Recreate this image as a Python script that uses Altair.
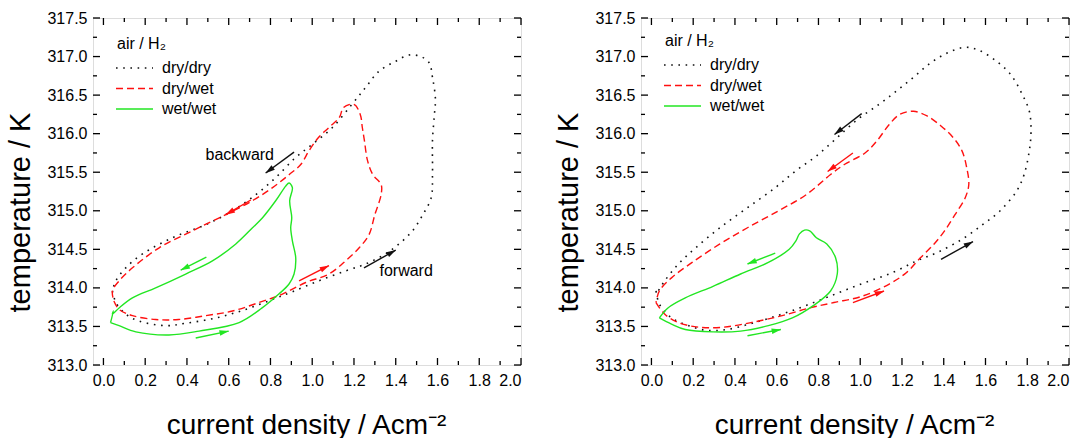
import math
import altair as alt
import pandas as pd

FONT = "Liberation Sans"
W, H = 428, 347
XDOM = [-0.05, 2.0]
YDOM = [313.0, 317.5]
PX_X = W / (XDOM[1] - XDOM[0])
PX_Y = H / (YDOM[1] - YDOM[0])

x_major = [0.0, 0.2, 0.4, 0.6, 0.8, 1.0, 1.2, 1.4, 1.6, 1.8, 2.0]
x_minor = [0.1, 0.3, 0.5, 0.7, 0.9, 1.1, 1.3, 1.5, 1.7, 1.9]
y_major = [313.0, 313.5, 314.0, 314.5, 315.0, 315.5, 316.0, 316.5, 317.0, 317.5]
y_minor = [313.25, 313.75, 314.25, 314.75, 315.25, 315.75, 316.25, 316.75, 317.25]

series_names = ["dry/dry", "dry/wet", "wet/wet"]
legend_title = "air / H\u2082"
x_title = "current density / Acm\u207b\u00b2"
y_title = "temperature / K"

# ---------------- left panel ----------------
L_dd_x = [0.043, 0.06, 0.107, 0.17, 0.30, 0.39, 0.54, 0.68, 0.81, 0.905, 1.03, 1.16, 1.256, 1.35, 1.416,
          1.48, 1.53, 1.57, 1.576, 1.576, 1.584, 1.59, 1.576, 1.56, 1.52, 1.464, 1.40, 1.32, 1.256, 1.19,
          1.097, 1.0, 0.92, 0.825, 0.73, 0.618, 0.49, 0.33, 0.187, 0.107, 0.059, 0.043]
L_dd_y = [313.96, 313.81, 313.66, 313.57, 313.51, 313.54, 313.61, 313.72, 313.85, 313.95, 314.09, 314.22,
          314.31, 314.44, 314.57, 314.74, 314.95, 315.17, 315.47, 315.91, 316.21, 316.45, 316.73, 316.92,
          317.0, 317.02, 316.94, 316.81, 316.6, 316.38, 316.08, 315.86, 315.69, 315.43, 315.21, 315.0,
          314.82, 314.65, 314.44, 314.26, 314.09, 313.96]

L_dw_x = [0.05, 0.075, 0.139, 0.25, 0.36, 0.49, 0.618, 0.745, 0.857, 0.969, 1.08, 1.16, 1.225, 1.272, 1.30,
          1.33, 1.33, 1.29, 1.265, 1.25, 1.24, 1.23, 1.20, 1.15, 1.13, 1.08, 1.03, 0.985, 0.945, 0.89, 0.81,
          0.713, 0.586, 0.426, 0.267, 0.139, 0.075, 0.043, 0.05]
L_dw_y = [313.83, 313.72, 313.64, 313.59, 313.59, 313.64, 313.70, 313.81, 313.92, 314.07, 314.18, 314.35,
          314.52, 314.69, 314.95, 315.21, 315.34, 315.47, 315.65, 315.91, 316.08, 316.25, 316.38, 316.34,
          316.21, 316.08, 315.95, 315.78, 315.60, 315.47, 315.30, 315.13, 314.95, 314.74, 314.52, 314.26,
          314.09, 313.96, 313.83]

L_ww_x = [0.034, 0.075, 0.155, 0.314, 0.458, 0.65, 0.76, 0.84, 0.889, 0.913, 0.921, 0.905, 0.897, 0.902,
          0.892, 0.905, 0.889, 0.873, 0.825, 0.762, 0.714, 0.634, 0.522, 0.394, 0.25, 0.139, 0.075, 0.043,
          0.048, 0.034]
L_ww_y = [313.55, 313.51, 313.43, 313.39, 313.44, 313.55, 313.74, 313.92, 314.05, 314.18, 314.39, 314.61,
          314.78, 314.91, 315.13, 315.30, 315.36, 315.32, 315.13, 314.91, 314.78, 314.57, 314.35, 314.18,
          314.0, 313.87, 313.74, 313.66, 313.70, 313.55]

# arrows: x0, y0, x1, y1, colour
L_arrows = [
    (0.913, 315.76, 0.777, 315.49, "black"),
    (1.248, 314.26, 1.40, 314.49, "black"),
    (0.706, 315.14, 0.586, 314.95, "red"),
    (0.937, 314.09, 1.08, 314.29, "red"),
    (0.493, 314.40, 0.37, 314.23, "green"),
    (0.442, 313.35, 0.60, 313.44, "green"),
]
L_notes_text = ["backward", "forward"]
L_notes_x = [0.653, 1.45]
L_notes_y = [315.72, 314.22]

# ---------------- right panel ----------------
R_dd_x = [0.022, 0.038, 0.096, 0.179, 0.262, 0.361, 0.493, 0.626, 0.758, 0.89, 1.023, 1.156, 1.27, 1.37,
          1.487, 1.586, 1.67, 1.75, 1.785, 1.81, 1.818, 1.81, 1.776, 1.72, 1.652, 1.57, 1.503, 1.42, 1.338,
          1.255, 1.172, 1.09, 0.99, 0.89, 0.79, 0.692, 0.593, 0.46, 0.328, 0.212, 0.129, 0.063, 0.03, 0.022]
R_dd_y = [313.96, 313.79, 313.61, 313.51, 313.45, 313.46, 313.55, 313.66, 313.79, 313.93, 314.07, 314.20,
          314.35, 314.46, 314.63, 314.82, 315.0, 315.26, 315.47, 315.78, 316.03, 316.29, 316.51, 316.77,
          316.94, 317.08, 317.12, 317.05, 316.92, 316.73, 316.55, 316.38, 316.19, 315.95, 315.71, 315.52,
          315.30, 315.04, 314.78, 314.52, 314.31, 314.09, 313.96, 313.96]

R_dw_x = [0.022, 0.063, 0.129, 0.228, 0.344, 0.477, 0.626, 0.758, 0.874, 1.007, 1.139, 1.222, 1.288, 1.354,
          1.404, 1.454, 1.503, 1.52, 1.51, 1.487, 1.445, 1.387, 1.32, 1.255, 1.19, 1.139, 1.081, 1.023,
          0.924, 0.858, 0.742, 0.609, 0.46, 0.328, 0.195, 0.096, 0.038, 0.022]
R_dw_y = [313.81, 313.66, 313.55, 313.49, 313.49, 313.55, 313.64, 313.74, 313.81, 313.89, 314.05, 314.20,
          314.39, 314.57, 314.74, 314.95, 315.17, 315.34, 315.56, 315.78, 315.95, 316.10, 316.23, 316.29,
          316.25, 316.12, 315.91, 315.75, 315.60, 315.47, 315.21, 315.0, 314.78, 314.57, 314.33, 314.13,
          313.96, 313.81]

R_ww_x = [0.038, 0.096, 0.162, 0.295, 0.427, 0.56, 0.675, 0.775, 0.858, 0.89, 0.882, 0.84, 0.79, 0.758,
          0.733, 0.709, 0.692, 0.66, 0.56, 0.427, 0.295, 0.162, 0.079, 0.038]
R_ww_y = [313.61, 313.53, 313.46, 313.43, 313.44, 313.51, 313.61, 313.77, 313.96, 314.18, 314.39, 314.57,
          314.65, 314.74, 314.75, 314.70, 314.61, 314.50, 314.33, 314.18, 314.02, 313.87, 313.74, 313.61]

R_arrows = [
    (1.007, 316.26, 0.877, 315.99, "black"),
    (1.387, 314.37, 1.54, 314.60, "black"),
    (0.965, 315.75, 0.844, 315.51, "red"),
    (0.965, 313.81, 1.114, 313.96, "red"),
    (0.593, 314.45, 0.46, 314.31, "green"),
    (0.46, 313.38, 0.62, 313.46, "green"),
]

COLORS = {"black": "#111111", "red": "#ff1010", "green": "#22e622"}
STYLES = {
    "dry/dry": dict(color="#111111", strokeDash=[1.6, 5.6], strokeWidth=1.6),
    "dry/wet": dict(color="#ff1010", strokeDash=[7, 4], strokeWidth=1.4),
    "wet/wet": dict(color="#22e622", strokeWidth=1.4),
}

xscale = alt.Scale(domain=XDOM, nice=False, zero=False)
yscale = alt.Scale(domain=YDOM, nice=False, zero=False)
xaxis = alt.Axis(values=x_major, format=".1f", title=x_title, grid=False, ticks=False, tickSize=0,
                 domain=False, labelFontSize=16, labelColor="black", labelPadding=7, labelFont=FONT,
                 titleFont=FONT, titleFontSize=28, titleFontWeight="normal", titleColor="black",
                 titleX=213, titleY=68, titleBaseline="alphabetic", titleAlign="center")
yaxis = alt.Axis(values=y_major, format=".1f", title=y_title, grid=False, ticks=False, tickSize=0,
                 domain=False, labelFontSize=16, labelColor="black", labelPadding=6, labelFont=FONT,
                 titleFont=FONT, titleFontSize=29, titleFontWeight="normal", titleColor="black",
                 titleX=-64, titleY=194, titleAngle=270, titleBaseline="alphabetic", titleAlign="center")


def X(f="x"):
    return alt.X(f"{f}:Q", scale=xscale, axis=xaxis)


def Y(f="y"):
    return alt.Y(f"{f}:Q", scale=yscale, axis=yaxis)


def curve(xs, ys, name):
    df = pd.DataFrame({"x": xs, "y": ys, "i": list(range(len(xs)))})
    return alt.Chart(df).mark_line(interpolate="catmull-rom", clip=True, **STYLES[name]).encode(
        x=X(), y=Y(), order=alt.Order("i:Q"))


def arrows(lst):
    rows = []
    for x0, y0, x1, y1, c in lst:
        dxp = (x1 - x0) * PX_X
        dyp = (y1 - y0) * PX_Y
        L = math.hypot(dxp, dyp)
        ang = math.degrees(math.atan2(dxp, dyp)) % 360
        back = 4.5 / L
        rows.append(dict(x=x0, y=y0, x2=x1, y2=y1, c=COLORS[c], ang=ang,
                         hx=x1 - (x1 - x0) * back, hy=y1 - (y1 - y0) * back))
    df = pd.DataFrame(rows)
    base = alt.Chart(df)
    shafts = base.mark_rule(strokeWidth=1.4).encode(
        x=X(), y=Y(), x2="x2:Q", y2="y2:Q", color=alt.Color("c:N", scale=None))
    heads = base.mark_point(shape="M0,-1L0.6,1L-0.6,1Z", filled=True, size=90, opacity=1,
                            strokeWidth=0).encode(
        x=X("hx"), y=Y("hy"), color=alt.Color("c:N", scale=None), angle=alt.Angle("ang:Q", scale=None))
    return [shafts, heads]


def frame_ticks():
    layers = []
    for vals, L in ((x_major, 7), (x_minor, 4)):
        base = alt.Chart(pd.DataFrame({"x": vals}))
        layers.append(base.mark_rule(color="black", strokeWidth=1.3).encode(
            x=X(), y=alt.value(H), y2=alt.value(H - L)))
        layers.append(base.mark_rule(color="black", strokeWidth=1.3).encode(
            x=X(), y=alt.value(0), y2=alt.value(L)))
    for vals, L in ((y_major, 7), (y_minor, 4)):
        base = alt.Chart(pd.DataFrame({"y": vals}))
        layers.append(base.mark_rule(color="black", strokeWidth=1.3).encode(
            y=Y(), x=alt.value(0), x2=alt.value(L)))
        layers.append(base.mark_rule(color="black", strokeWidth=1.3).encode(
            y=Y(), x=alt.value(W), x2=alt.value(W - L)))
    return layers


def legend(dy):
    layers = []
    one = alt.Chart(pd.DataFrame({"t": [legend_title]}))
    layers.append(one.mark_text(align="left", baseline="middle", font=FONT, fontSize=16, color="black").encode(
        text="t:N", x=alt.value(24), y=alt.value(26 + dy)))
    for k, name in enumerate(series_names):
        yy = 50 + dy + k * 20.5
        d = alt.Chart(pd.DataFrame({"t": [name]}))
        layers.append(d.mark_rule(**STYLES[name]).encode(
            x=alt.value(23), x2=alt.value(60), y=alt.value(yy)))
        layers.append(d.mark_text(align="left", baseline="middle", font=FONT, fontSize=16, color="black").encode(
            text="t:N", x=alt.value(69), y=alt.value(yy)))
    return layers


def notes(texts, xs, ys):
    df = pd.DataFrame({"t": texts, "x": xs, "y": ys})
    return alt.Chart(df).mark_text(font=FONT, fontSize=16, color="black", align="center",
                                   baseline="middle").encode(x=X(), y=Y(), text="t:N")


def panel(dd, dw, ww, arr, extra, dy):
    layers = [curve(*dd, "dry/dry"), curve(*dw, "dry/wet"), curve(*ww, "wet/wet")]
    layers += arrows(arr)
    layers += extra
    layers += frame_ticks()
    layers += legend(dy)
    return alt.layer(*layers).properties(width=W, height=H)


left = panel((L_dd_x, L_dd_y), (L_dw_x, L_dw_y), (L_ww_x, L_ww_y), L_arrows,
             [notes(L_notes_text, L_notes_x, L_notes_y)], 0)
right = panel((R_dd_x, R_dd_y), (R_dw_x, R_dw_y), (R_ww_x, R_ww_y), R_arrows, [], -3)

chart = alt.hconcat(left, right, spacing=30).properties(
    padding={"left": 5, "top": 9, "right": 0, "bottom": 0}
).configure_view(stroke="black", strokeWidth=1.5).configure(background="white")

chart.save("out.html", embed_options={"renderer": "svg", "actions": False})
